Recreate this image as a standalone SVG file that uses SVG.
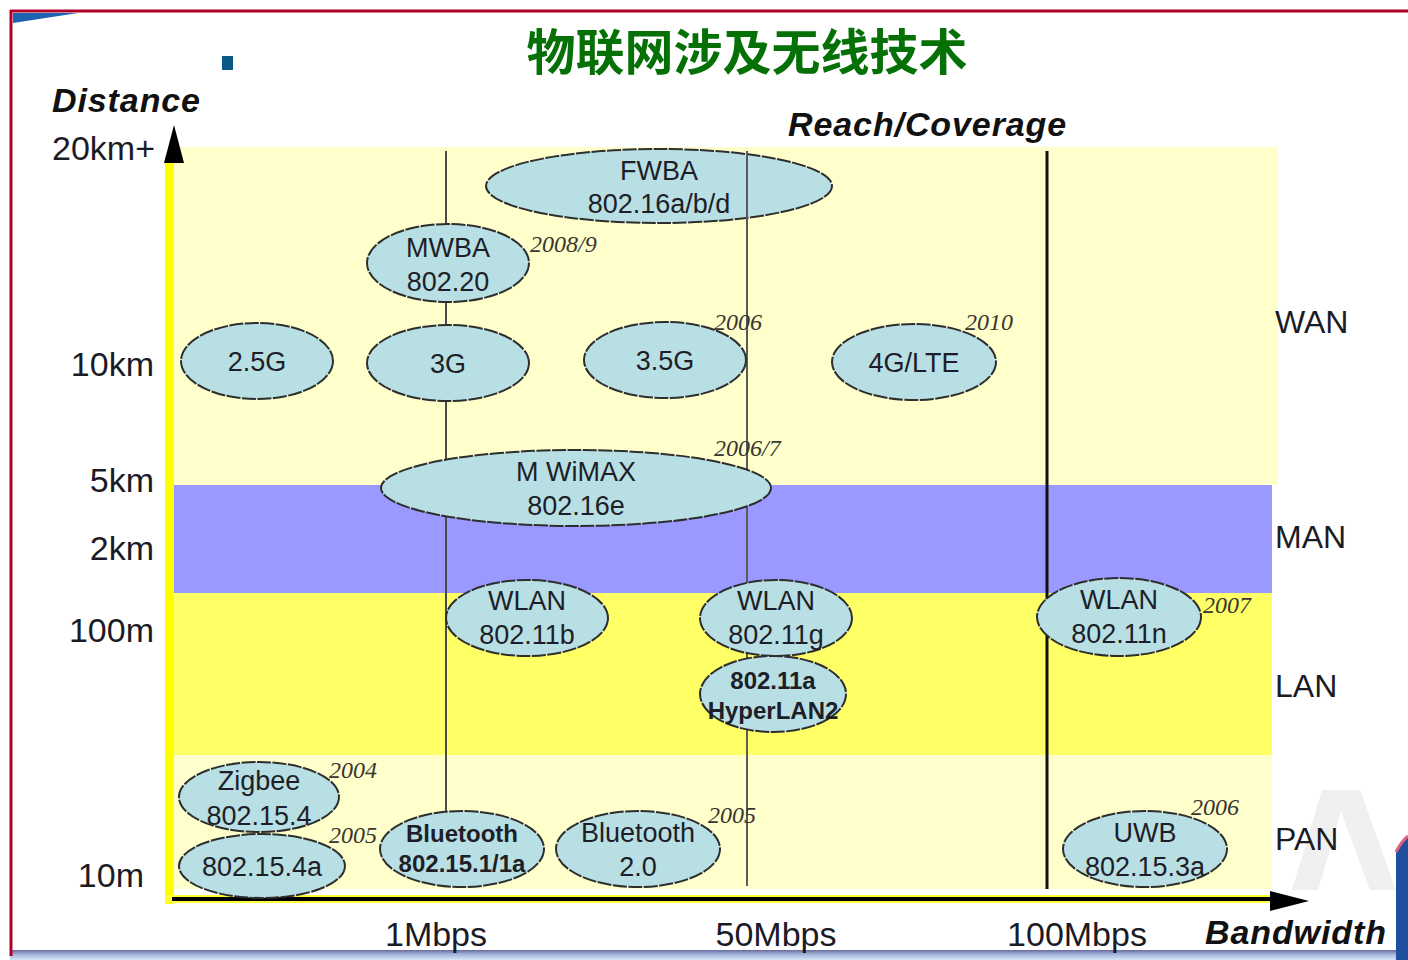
<svg xmlns="http://www.w3.org/2000/svg" width="1408" height="960" viewBox="0 0 1408 960">
<defs>
<style>
.ax{font-family:"Liberation Sans",Arial,sans-serif;font-size:34px;fill:#1b1b26}
.axb{font-family:"Liberation Sans",Arial,sans-serif;font-size:34px;font-weight:bold;font-style:italic;fill:#111;letter-spacing:0.9px}
.zone{font-family:"Liberation Sans",Arial,sans-serif;font-size:32px;fill:#1b1b26}
.el{fill:#B8DFE3;stroke:#2e2e2e;stroke-width:2;stroke-dasharray:14 1.5}
.t{font-family:"Liberation Sans",Arial,sans-serif;font-size:27px;fill:#1e1e28;text-anchor:middle}
.tb{font-family:"Liberation Sans",Arial,sans-serif;font-size:24px;font-weight:bold;fill:#1e1e28;text-anchor:middle}
.yr{font-family:"Liberation Serif","Times New Roman",serif;font-size:24px;font-style:italic;fill:#3a3530}
</style>
<linearGradient id="bot" x1="0" y1="0" x2="0" y2="1">
<stop offset="0" stop-color="#6a6a9a"/>
<stop offset="0.4" stop-color="#9fb0d8"/>
<stop offset="1" stop-color="#d8e6f6"/>
</linearGradient>
</defs>
<rect x="0" y="0" width="1408" height="960" fill="#ffffff"/>
<g id="frame">
<rect x="10" y="950" width="1398" height="10" fill="url(#bot)"/>
<polygon points="13,13 78,13 13,23" fill="#1b62b0"/>
<line x1="10" y1="11" x2="1408" y2="11" stroke="#b0002a" stroke-width="3"/>
<line x1="11" y1="10" x2="11" y2="956" stroke="#b0002a" stroke-width="3"/>
<polygon points="1322,790 1360,790 1396,890 1370,890 1341,812 1318,890 1292,890" fill="#f0f0f0"/>
<path d="M1396,852 Q1401,842 1408,836 L1408,960 L1396,960 Z" fill="#1f4f9f"/>
<path d="M1396,852 Q1401,842 1408,836" fill="none" stroke="#e06080" stroke-width="3"/>
<rect x="222" y="56" width="11" height="14" fill="#0b5a85"/>
</g>
<g id="bands">
<rect x="174" y="147" width="1104" height="338" fill="#FFFFCC"/>
<rect x="174" y="485" width="1098" height="108" fill="#9999FF"/>
<rect x="174" y="593" width="1098" height="162" fill="#FFFF66"/>
<rect x="174" y="755" width="1098" height="134" fill="#FFFFCC"/>
</g>
<g id="connectors">
<line x1="446" y1="151" x2="446" y2="812" stroke="#4a4a4a" stroke-width="2"/>
<line x1="747" y1="151" x2="747" y2="886" stroke="#5a5a5a" stroke-width="2"/>
<line x1="1047" y1="151" x2="1047" y2="889" stroke="#111" stroke-width="3"/>
<rect x="165" y="160" width="9" height="744" fill="#ffff00"/>
<polygon points="174,125 164,163 184,163" fill="#000"/>
<rect x="166" y="895" width="1106" height="8" fill="#ffff33"/>
<line x1="172" y1="899" x2="1275" y2="899" stroke="#000" stroke-width="4"/>
<polygon points="1270,891 1309,901 1270,911" fill="#000"/>
</g>
<g id="labels">
<text x="747" y="70" font-family="'Noto Sans CJK SC','Noto Sans',sans-serif" font-size="49" font-weight="bold" fill="#057005" text-anchor="middle">物联网涉及无线技术</text>
<text x="52" y="112" class="axb">Distance</text>
<text x="788" y="136" class="axb">Reach/Coverage</text>
<text x="1205" y="944" class="axb">Bandwidth</text>
<text x="155" y="160" class="ax" text-anchor="end">20km+</text>
<text x="154" y="376" class="ax" text-anchor="end">10km</text>
<text x="154" y="492" class="ax" text-anchor="end">5km</text>
<text x="154" y="560" class="ax" text-anchor="end">2km</text>
<text x="154" y="642" class="ax" text-anchor="end">100m</text>
<text x="144" y="887" class="ax" text-anchor="end">10m</text>
<text x="436" y="946" class="ax" text-anchor="middle">1Mbps</text>
<text x="776" y="946" class="ax" text-anchor="middle">50Mbps</text>
<text x="1077" y="946" class="ax" text-anchor="middle">100Mbps</text>
<text x="1275" y="333" class="zone">WAN</text>
<text x="1275" y="548" class="zone">MAN</text>
<text x="1275" y="697" class="zone">LAN</text>
<text x="1275" y="850" class="zone">PAN</text>
</g>
<g id="n-fwba"><ellipse cx="659" cy="186" rx="173" ry="37" class="el"/><text x="659" y="180" class="t">FWBA</text><text x="659" y="213" class="t">802.16a/b/d</text></g>
<line x1="747" y1="151" x2="747" y2="222" stroke="#5a5a5a" stroke-width="2"/>
<g id="n-mwba"><ellipse cx="448" cy="263" rx="81" ry="39" class="el"/><text x="448" y="257" class="t">MWBA</text><text x="448" y="291" class="t">802.20</text><text x="530" y="252" class="yr">2008/9</text></g>
<g id="n-25g"><ellipse cx="257" cy="361" rx="76" ry="38" class="el"/><text x="257" y="371" class="t">2.5G</text></g>
<g id="n-3g"><ellipse cx="448" cy="363" rx="81" ry="38" class="el"/><text x="448" y="373" class="t">3G</text></g>
<g id="n-35g"><ellipse cx="665" cy="360" rx="81" ry="38" class="el"/><text x="665" y="370" class="t">3.5G</text><text x="714" y="330" class="yr">2006</text></g>
<g id="n-4g"><ellipse cx="914" cy="362" rx="82" ry="38" class="el"/><text x="914" y="372" class="t">4G/LTE</text><text x="965" y="330" class="yr">2010</text></g>
<g id="n-wimax"><ellipse cx="576" cy="488" rx="195" ry="38" class="el"/><text x="576" y="481" class="t">M WiMAX</text><text x="576" y="515" class="t">802.16e</text><text x="714" y="456" class="yr">2006/7</text></g>
<g id="n-11b"><ellipse cx="527" cy="618" rx="81" ry="38" class="el"/><text x="527" y="610" class="t">WLAN</text><text x="527" y="644" class="t">802.11b</text></g>
<g id="n-11g"><ellipse cx="776" cy="618" rx="76" ry="38" class="el"/><text x="776" y="610" class="t">WLAN</text><text x="776" y="644" class="t">802.11g</text></g>
<g id="n-11a"><ellipse cx="773" cy="694" rx="73" ry="38" class="el"/><text x="773" y="689" class="tb">802.11a</text><text x="773" y="719" class="tb">HyperLAN2</text></g>
<g id="n-11n"><ellipse cx="1119" cy="617" rx="82" ry="39" class="el"/><text x="1119" y="609" class="t">WLAN</text><text x="1119" y="643" class="t">802.11n</text><text x="1203" y="613" class="yr">2007</text></g>
<g id="n-zigbee"><ellipse cx="259" cy="797" rx="80" ry="35" class="el"/><text x="259" y="790" class="t">Zigbee</text><text x="259" y="825" class="t">802.15.4</text><text x="329" y="778" class="yr">2004</text></g>
<g id="n-1544a"><ellipse cx="262" cy="866" rx="83" ry="32" class="el"/><text x="262" y="876" class="t">802.15.4a</text><text x="329" y="843" class="yr">2005</text></g>
<g id="n-bt1"><ellipse cx="462" cy="849" rx="82" ry="38" class="el"/><text x="462" y="842" class="tb">Bluetooth</text><text x="462" y="872" class="tb">802.15.1/1a</text></g>
<g id="n-bt2"><ellipse cx="638" cy="849" rx="82" ry="38" class="el"/><text x="638" y="842" class="t">Bluetooth</text><text x="638" y="876" class="t">2.0</text><text x="708" y="823" class="yr">2005</text></g>
<g id="n-uwb"><ellipse cx="1145" cy="849" rx="82" ry="38" class="el"/><text x="1145" y="842" class="t">UWB</text><text x="1145" y="876" class="t">802.15.3a</text><text x="1191" y="815" class="yr">2006</text></g>
</svg>
